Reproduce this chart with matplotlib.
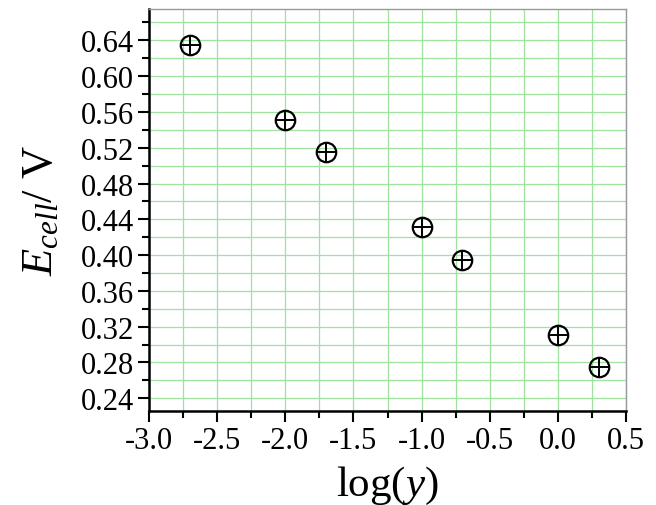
import matplotlib
matplotlib.use('Agg')
import matplotlib.pyplot as plt
from matplotlib.ticker import MultipleLocator, FormatStrFormatter

log_y = [-2.7, -2.0, -1.7, -1.0, -0.7, 0.0, 0.3]
e_cell = [0.635, 0.551, 0.515, 0.431, 0.395, 0.311, 0.275]

plt.rcParams['font.family'] = 'Liberation Serif'
plt.rcParams['mathtext.fontset'] = 'custom'
plt.rcParams['mathtext.rm'] = 'Liberation Serif'
plt.rcParams['mathtext.it'] = 'Liberation Serif:italic'

fig = plt.figure(figsize=(6.56, 5.06), dpi=100)
ax = fig.add_axes([149 / 656, 1 - 412 / 506, 477 / 656, 402 / 506])

ax.set_xlim(-3.0, 0.5)
ax.set_ylim(0.2258, 0.675)
ax.xaxis.set_major_locator(MultipleLocator(0.5))
ax.xaxis.set_minor_locator(MultipleLocator(0.25))
ax.yaxis.set_major_locator(MultipleLocator(0.04))
ax.yaxis.set_minor_locator(MultipleLocator(0.02))
ax.xaxis.set_major_formatter(FormatStrFormatter('%.1f'))
ax.yaxis.set_major_formatter(FormatStrFormatter('%.2f'))

ax.grid(True, which='both', color='#9fe39f', linewidth=0.9)
ax.set_axisbelow(True)

ax.plot(log_y, e_cell, linestyle='none', marker='o', markersize=14,
        markerfacecolor='none', markeredgecolor='black', markeredgewidth=1.6, zorder=3)
ax.plot(log_y, e_cell, linestyle='none', marker='+', markersize=14,
        markeredgecolor='black', markeredgewidth=1.4, zorder=3)

ax.tick_params(which='major', direction='out', length=8, width=1.5, labelsize=22,
               top=False, right=False, pad=3)
ax.tick_params(which='minor', direction='out', length=5, width=1.5,
               top=False, right=False)
for s in ['left', 'bottom']:
    ax.spines[s].set_linewidth(1.8)
for s in ['top', 'right']:
    ax.spines[s].set_color('#999999')
    ax.spines[s].set_linewidth(1.0)

ax.set_xlabel(r'log($y$)', fontsize=31, labelpad=6)
ax.set_ylabel(r'$E_{cell}$/ V', fontsize=32, labelpad=14)

plt.savefig('out.png', dpi=100)
